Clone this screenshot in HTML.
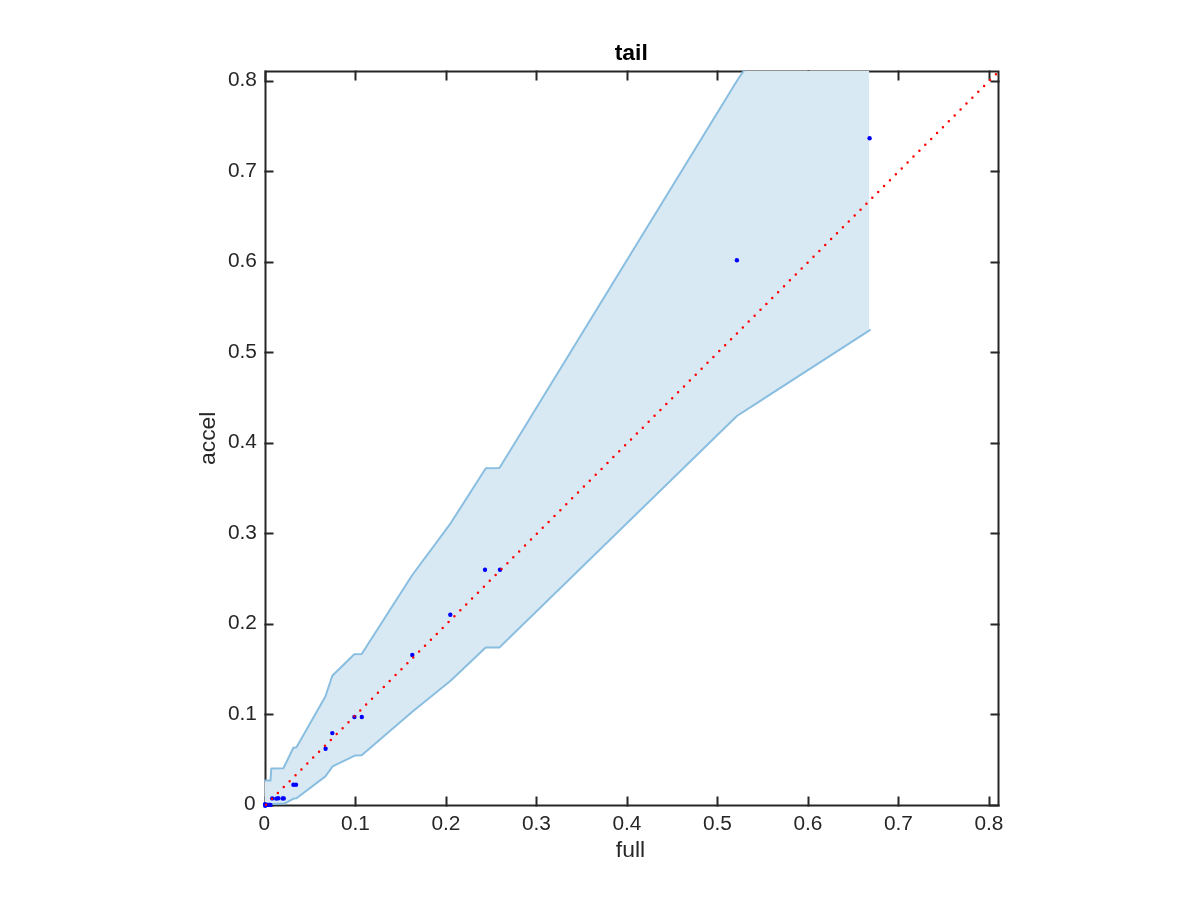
<!DOCTYPE html>
<html lang="en">
<head>
<meta charset="utf-8">
<title>tail</title>
<style>
html,body{margin:0;padding:0;background:#fff;}
body{width:1200px;height:900px;overflow:hidden;}
svg{display:block;}
text{font-family:"Liberation Sans",Arial,Helvetica,sans-serif;}
.tk{font-size:20.83px;fill:#262626;}
.lb{font-size:22.92px;fill:#262626;}
.tt{font-size:22.92px;font-weight:bold;fill:#000;}
</style>
</head>
<body>
<svg width="1200" height="900" viewBox="0 0 1200 900">
<defs><clipPath id="ax"><rect x="264.75" y="71.05" width="734.50" height="734.90"/></clipPath><clipPath id="ln"><rect x="264.50" y="70.40" width="735.00" height="736.10"/></clipPath></defs>
<rect x="0" y="0" width="1200" height="900" fill="#ffffff"/>

<g stroke="#262626" stroke-width="2" fill="none" stroke-linecap="butt">
<rect x="265.5" y="71.5" width="733.00" height="734.00"/>
<path d="M265.50 806.6V796.60M265.50 70.4V80.40M264.4 805.50H273.50M999.6 805.50H990.50M355.50 806.6V796.60M355.50 70.4V80.40M264.4 714.50H273.50M999.6 714.50H990.50M446.50 806.6V796.60M446.50 70.4V80.40M264.4 624.50H273.50M999.6 624.50H990.50M536.50 806.6V796.60M536.50 70.4V80.40M264.4 533.50H273.50M999.6 533.50H990.50M627.50 806.6V796.60M627.50 70.4V80.40M264.4 443.50H273.50M999.6 443.50H990.50M717.50 806.6V796.60M717.50 70.4V80.40M264.4 352.50H273.50M999.6 352.50H990.50M808.50 806.6V796.60M808.50 70.4V80.40M264.4 262.50H273.50M999.6 262.50H990.50M898.50 806.6V796.60M898.50 70.4V80.40M264.4 171.50H273.50M999.6 171.50H990.50M989.50 806.6V796.60M989.50 70.4V80.40M264.4 81.50H273.50M999.6 81.50H990.50"/>
</g>
<polygon clip-path="url(#ax)" points="264.0,780.6 270.5,780.6 271.3,768.5 283.4,768.3 293.4,747.7 296.5,747.3 325.4,696.5 332.3,675.7 354.3,654.3 361.7,654.0 412.3,575.0 450.6,523.3 485.8,468.3 499.4,468.1 737.3,80.2 869.1,-111.0 869.1,330.7 736.9,416.0 499.3,647.6 485.7,647.6 450.6,680.7 412.3,711.7 361.7,755.2 354.8,755.6 332.6,766.4 325.4,776.4 296.5,798.2 293.6,798.6 284.5,803.6 272.0,803.9 264.0,805.0" fill="#d9e9f4"/>
<g clip-path="url(#ln)">
<polyline points="264.0,780.6 270.5,780.6 271.3,768.5 283.4,768.3 293.4,747.7 296.5,747.3 325.4,696.5 332.3,675.7 354.3,654.3 361.7,654.0 412.3,575.0 450.6,523.3 485.8,468.3 499.4,468.1 737.3,80.2 869.3,-111.0" fill="none" stroke="#89bee0" stroke-width="2" stroke-linejoin="round"/>
<polyline points="264.0,805.0 272.0,803.9 284.5,803.6 293.6,798.6 296.5,798.2 325.4,776.4 332.6,766.4 354.8,755.6 361.7,755.2 412.3,711.7 450.6,680.7 485.7,647.6 499.3,647.6 736.9,416.0 869.8,330.2" fill="none" stroke="#89bee0" stroke-width="2" stroke-linejoin="round" stroke-linecap="square"/>
</g>
<g fill="#0000ff">
<circle cx="265.0" cy="804.1" r="2.2"/>
<circle cx="265.2" cy="805.8" r="2.2"/>
<circle cx="265.6" cy="804.9" r="2.2"/>
<circle cx="266.6" cy="804.9" r="2.2"/>
<circle cx="267.6" cy="804.9" r="2.2"/>
<circle cx="268.6" cy="804.9" r="2.2"/>
<circle cx="269.6" cy="804.9" r="2.2"/>
<circle cx="270.4" cy="804.9" r="2.2"/>
<circle cx="272.2" cy="798.4" r="2.2"/>
<circle cx="276.2" cy="798.6" r="2.2"/>
<circle cx="278.2" cy="798.3" r="2.2"/>
<circle cx="282.6" cy="798.4" r="2.2"/>
<circle cx="283.8" cy="798.4" r="2.2"/>
<circle cx="293.4" cy="784.8" r="2.2"/>
<circle cx="296.0" cy="784.8" r="2.2"/>
<circle cx="325.6" cy="748.8" r="2.2"/>
<circle cx="332.3" cy="733.1" r="2.2"/>
<circle cx="354.4" cy="717.0" r="2.2"/>
<circle cx="361.8" cy="717.0" r="2.2"/>
<circle cx="412.3" cy="655.0" r="2.2"/>
<circle cx="450.3" cy="614.7" r="2.2"/>
<circle cx="485.0" cy="569.7" r="2.2"/>
<circle cx="500.0" cy="569.7" r="2.2"/>
<circle cx="736.9" cy="260.2" r="2.2"/>
<circle cx="869.6" cy="138.3" r="2.2"/>
</g>
<line x1="266.1" y1="804.75" x2="995.95" y2="74.08" stroke="#ff0000" stroke-width="2.5" stroke-linecap="round" stroke-dasharray="0 8.328"/>
<text class="tk" x="264.4" y="830" text-anchor="middle">0</text>
<text class="tk" x="355.4" y="830" text-anchor="middle">0.1</text>
<text class="tk" x="445.9" y="830" text-anchor="middle">0.2</text>
<text class="tk" x="536.4" y="830" text-anchor="middle">0.3</text>
<text class="tk" x="626.9" y="830" text-anchor="middle">0.4</text>
<text class="tk" x="717.4" y="830" text-anchor="middle">0.5</text>
<text class="tk" x="807.9" y="830" text-anchor="middle">0.6</text>
<text class="tk" x="898.4" y="830" text-anchor="middle">0.7</text>
<text class="tk" x="988.9" y="830" text-anchor="middle">0.8</text>
<text class="tk" x="255.6" y="810.1" text-anchor="end">0</text>
<text class="tk" x="256.9" y="719.6" text-anchor="end">0.1</text>
<text class="tk" x="256.9" y="629.1" text-anchor="end">0.2</text>
<text class="tk" x="256.9" y="538.6" text-anchor="end">0.3</text>
<text class="tk" x="256.9" y="448.1" text-anchor="end">0.4</text>
<text class="tk" x="256.9" y="357.7" text-anchor="end">0.5</text>
<text class="tk" x="256.9" y="267.2" text-anchor="end">0.6</text>
<text class="tk" x="256.9" y="176.7" text-anchor="end">0.7</text>
<text class="tk" x="256.9" y="86.2" text-anchor="end">0.8</text>
<text class="lb" x="630.5" y="856.8" text-anchor="middle">full</text>
<text class="lb" transform="translate(215 438.3) rotate(-90)" text-anchor="middle">accel</text>
<text class="tt" x="631.3" y="59.8" text-anchor="middle">tail</text>
</svg>
</body>
</html>
